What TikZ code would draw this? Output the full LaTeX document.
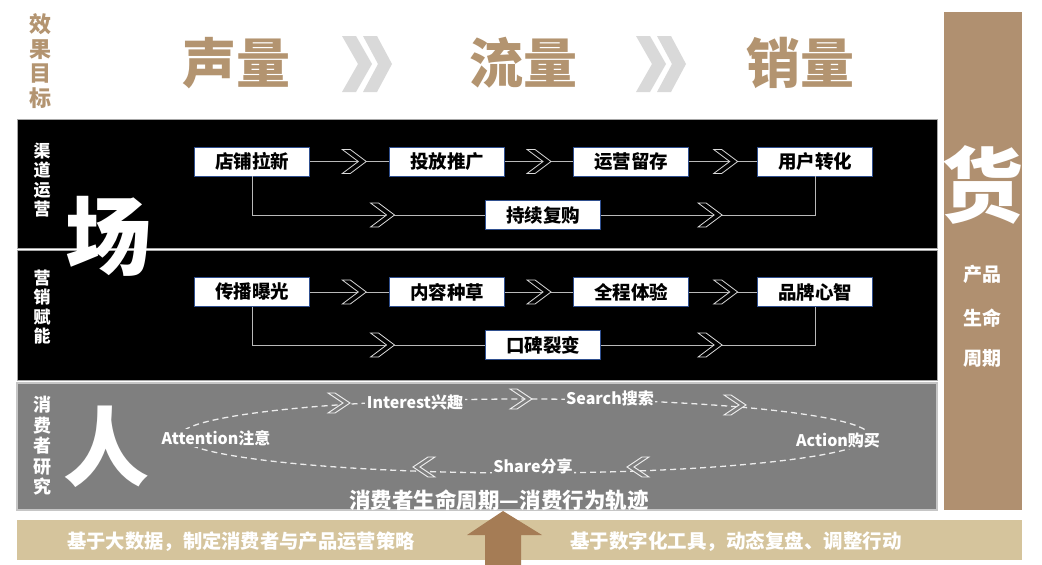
\documentclass[tikz,border=0pt]{standalone}
\usepackage{fontspec}
\setmainfont{Noto Sans CJK SC}
\usetikzlibrary{calc}
\definecolor{tanbox}{HTML}{B09070}
\definecolor{tantext}{HTML}{B39470}
\definecolor{barcol}{HTML}{D5C49C}
\definecolor{arrowcol}{HTML}{A57C55}
\definecolor{midgray}{HTML}{7F7F7F}
\definecolor{boxblue}{HTML}{2F4F8F}
\definecolor{chevgray}{HTML}{D9D9D9}
\newcommand{\fs}[1]{\fontsize{#1}{#1}\selectfont\bfseries}
\tikzset{
  stagebox/.style={draw=boxblue, line width=0.8, fill=white, minimum width=115, minimum height=29, inner sep=0pt, font=\fs{18.5}, text=black},
  conn/.style={draw=gray!55, line width=1},
  vlabel/.style={text=white, align=center, inner sep=0pt, font=\fontsize{17}{19.5}\selectfont\bfseries},
  bigwhite/.style={text=white, inner sep=0pt, font=\fs{86}},
  bigtan/.style={text=tantext, inner sep=0pt, font=\fs{54}},
  elab/.style={fill=midgray, text=white, inner sep=1.5pt, font=\fs{16}},
  chev/.pic={\draw[draw=chevgray, fill=black, line width=0.8] (-12,-12)--(-4,-12)--(12,0)--(-4,12)--(-12,12)--(4,0)--cycle;},
  gchev/.pic={\draw[draw=white!90!gray, fill=midgray, line width=0.9] (-11,-10)--(-4,-10)--(11,0)--(-4,10)--(-11,10)--(4,0)--cycle;},
  bigchev/.pic={\fill[chevgray] (0,0)--(14,0)--(30,28)--(14,56)--(0,56)--(16,28)--cycle;
                \fill[chevgray] (21,0)--(35,0)--(50,28)--(35,56)--(21,56)--(36,28)--cycle;}
}
\begin{document}
\begin{tikzpicture}[x=1pt,y=-1pt]
\useasboundingbox (0,0) rectangle (1042,565);
\fill[white] (0,0) rectangle (1042,565);

% ---- top row ----
\node[text=tantext, align=center, inner sep=0pt, font=\fontsize{22}{24.5}\selectfont\bfseries] (goal) at (40,61) {效\\果\\目\\标};
\node[bigtan] (sl) at (236,63) {声量};
\node[bigtan] (ll) at (523,63) {流量};
\node[bigtan] (xl) at (800,63) {销量};
\pic at (342,36) {bigchev};
\pic at (636,36) {bigchev};

% ---- frames ----
\draw[draw=gray!70, line width=1, fill=black] (17,119) rectangle (937,248);
\draw[draw=gray!70, line width=1, fill=black] (17,250) rectangle (937,380);
\draw[draw=gray!45, line width=1.2, fill=midgray] (17,383) rectangle (937,510);
\fill[tanbox] (944,12) rectangle (1022,510);
\fill[barcol] (17,520) rectangle (1022,560);

% ---- right column ----
\node[bigwhite, font=\fs{82}] (huo) at (982,185) {货};
\node[text=white, font=\fs{19}, inner sep=0pt] (cp) at (982,274) {产品};
\node[text=white, font=\fs{19}, inner sep=0pt] (sm) at (982,318) {生命};
\node[text=white, font=\fs{19}, inner sep=0pt] (zq) at (982,358) {周期};

% ---- row 1 ----
\node[vlabel] (l1) at (42,180) {渠\\道\\运\\营};
\node[stagebox] (a1) at (252,161.5) {店铺拉新};
\node[stagebox] (a2) at (447,161.5) {投放推广};
\node[stagebox] (a3) at (631,161.5) {运营留存};
\node[stagebox] (a4) at (815,161.5) {用户转化};
\node[stagebox] (a5) at (543,215) {持续复购};
\draw[conn] (a1) -- (a2);
\draw[conn] (a2) -- (a3);
\draw[conn] (a3) -- (a4);
\draw[conn] (a1.south) |- (a5.west);
\draw[conn] (a5.east) -| (a4.south);
\pic at ($(a1.east)!0.56!(a2.west)$) {chev};
\pic at ($(a2.east)!0.5!(a3.west)$) {chev};
\pic at ($(a3.east)!0.54!(a4.west)$) {chev};
\pic at ($(a1.south |- a5.west)!0.56!(a5.west)$) {chev};
\pic at ($(a5.east)!0.51!(a4.south |- a5.east)$) {chev};

% ---- row 2 ----
\node[vlabel] (l2) at (42,307) {营\\销\\赋\\能};
\node[stagebox] (b1) at (252,292) {传播曝光};
\node[stagebox] (b2) at (447,292) {内容种草};
\node[stagebox] (b3) at (631,292) {全程体验};
\node[stagebox] (b4) at (815,292) {品牌心智};
\node[stagebox] (b5) at (543,345) {口碑裂变};
\draw[conn] (b1) -- (b2);
\draw[conn] (b2) -- (b3);
\draw[conn] (b3) -- (b4);
\draw[conn] (b1.south) |- (b5.west);
\draw[conn] (b5.east) -| (b4.south);
\pic at ($(b1.east)!0.56!(b2.west)$) {chev};
\pic at ($(b2.east)!0.5!(b3.west)$) {chev};
\pic at ($(b3.east)!0.54!(b4.west)$) {chev};
\pic at ($(b1.south |- b5.west)!0.56!(b5.west)$) {chev};
\pic at ($(b5.east)!0.51!(b4.south |- b5.east)$) {chev};

% big 场 across rows 1-2
\node[bigwhite] (chang) at (108,236) {场};

% ---- row 3 ----
\node[vlabel, font=\fontsize{18}{20.5}\selectfont\bfseries] (l3) at (42,446) {消\\费\\者\\研\\究};
\node[bigwhite] (ren) at (106,447) {人};
\draw[draw=white!85!gray, line width=1.3, dash pattern=on 6pt off 4pt] (525,436) ellipse [x radius=345, y radius=37];
\pic at (339,403) {gchev};
\pic at (521,399) {gchev};
\pic at (735,405) {gchev};
\pic[xscale=-1] at (638,467) {gchev};
\pic[xscale=-1] at (424,467) {gchev};
\node[elab] (att) at (216,438) {Attention注意};
\node[elab] (int) at (415,402) {Interest兴趣};
\node[elab] (sea) at (610,398) {Search搜索};
\node[elab] (act) at (838,440) {Action购买};
\node[elab] (sha) at (533,466) {Share分享};
\node[text=white, inner sep=0pt, font=\fs{21.5}] (life) at (499,500) {消费者生命周期—消费行为轨迹};

% ---- bottom bar ----
\fill[arrowcol] (503,511)--(542,535)--(521,535)--(521,565)--(485,565)--(485,535)--(467,535)--cycle;
\node[text=white, inner sep=0pt, font=\fs{19.3}] (bl) at (241,542) {基于大数据，制定消费者与产品运营策略};
\node[text=white, inner sep=0pt, font=\fs{19.5}] (br) at (736,542) {基于数字化工具，动态复盘、调整行动};
\end{tikzpicture}
\end{document}
